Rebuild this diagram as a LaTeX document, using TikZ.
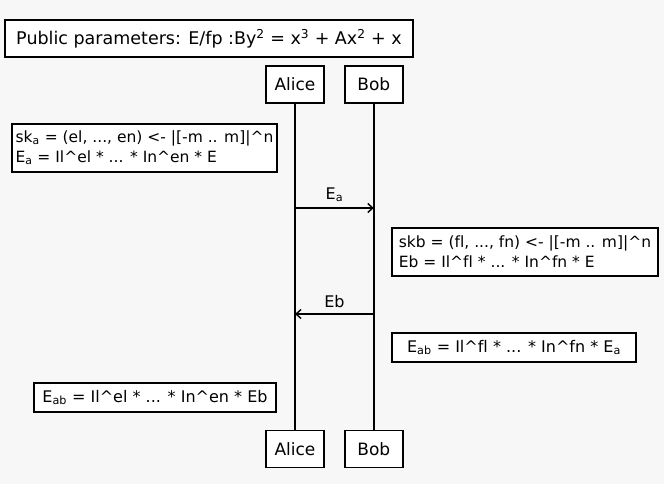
\documentclass[tikz,border=0pt]{standalone}
\usepackage{fontspec}
\setmainfont[Ligatures=NoCommon]{DejaVu Sans}
\usetikzlibrary{positioning,arrows.meta}
\colorlet{mypaper}{black!3}

\begin{document}
\begin{tikzpicture}[x=1pt,y=-1pt,font=\fontsize{16}{20}\selectfont]
\tikzset{Actor/.style ={draw,line width=1.8pt,fill=white,minimum width=58pt,minimum height=37pt,inner sep=0pt,font=\fontsize{17}{20}\selectfont}}
\tikzset{Note/.style ={draw,line width=1.8pt,fill=white,align=left,inner sep=4pt,minimum height=29pt}}
\tikzset{Msg/.style ={line width=1.4pt,-{Straight Barb[length=5pt,width=9pt]}}}
\fill[mypaper] (0,0) rectangle (664,484);
% participants
\node[Actor] (alice) at (295,84.5) {Alice};
\node[Actor,right=19pt of alice] (bob) {Bob};
\node[Actor] (alice2) at (295,449) {Alice};
\node[Actor,right=19pt of alice2] (bob2) {Bob};
\draw[line width=1.4pt] (alice) -- (alice2);
\draw[line width=1.4pt] (bob) -- (bob2);
% notes
\node[Note,font=\fontsize{17.5}{20}\selectfont,minimum width=408pt,minimum height=37pt] (pub) at (209,38.5)
  {Public parameters: E/fp :By\textsuperscript{2} = x\textsuperscript{3} + Ax\textsuperscript{2} + x};
\node[Note,font=\fontsize{15.5}{20}\selectfont,minimum width=263pt,minimum height=48pt] (ska) at (144.5,148)
  {sk\textsubscript{a} = (el, ..., en) <- |[-m .. m]|\^{}n\\E\textsubscript{a} = Il\^{}el * ... * In\^{}en * E};
\node[Note,font=\fontsize{15.5}{20}\selectfont,minimum width=266pt,minimum height=48pt] (skb) at (525,252)
  {skb = (fl, ..., fn) <- |[-m .. m]|\^{}n\\Eb = Il\^{}fl * ... * In\^{}fn * E};
\node[Note,minimum width=244pt] (eabr) at (514,347.5)
  {E\textsubscript{ab} = Il\^{}fl * ... * In\^{}fn * E\textsubscript{a}};
\node[Note,minimum width=242pt] (eabl) at (155,397.5)
  {E\textsubscript{ab} = Il\^{}el * ... * In\^{}en * Eb};
% messages
\coordinate (a1) at (alice |- 0,208);
\coordinate (b1) at (bob |- 0,208);
\coordinate (a2) at (alice |- 0,314);
\coordinate (b2) at (bob |- 0,314);
\draw[Msg] (a1) -- node[above=2pt] {E\textsubscript{a}} (b1);
\draw[Msg] (b2) -- node[above=2pt] {Eb} (a2);
\end{tikzpicture}
\end{document}
